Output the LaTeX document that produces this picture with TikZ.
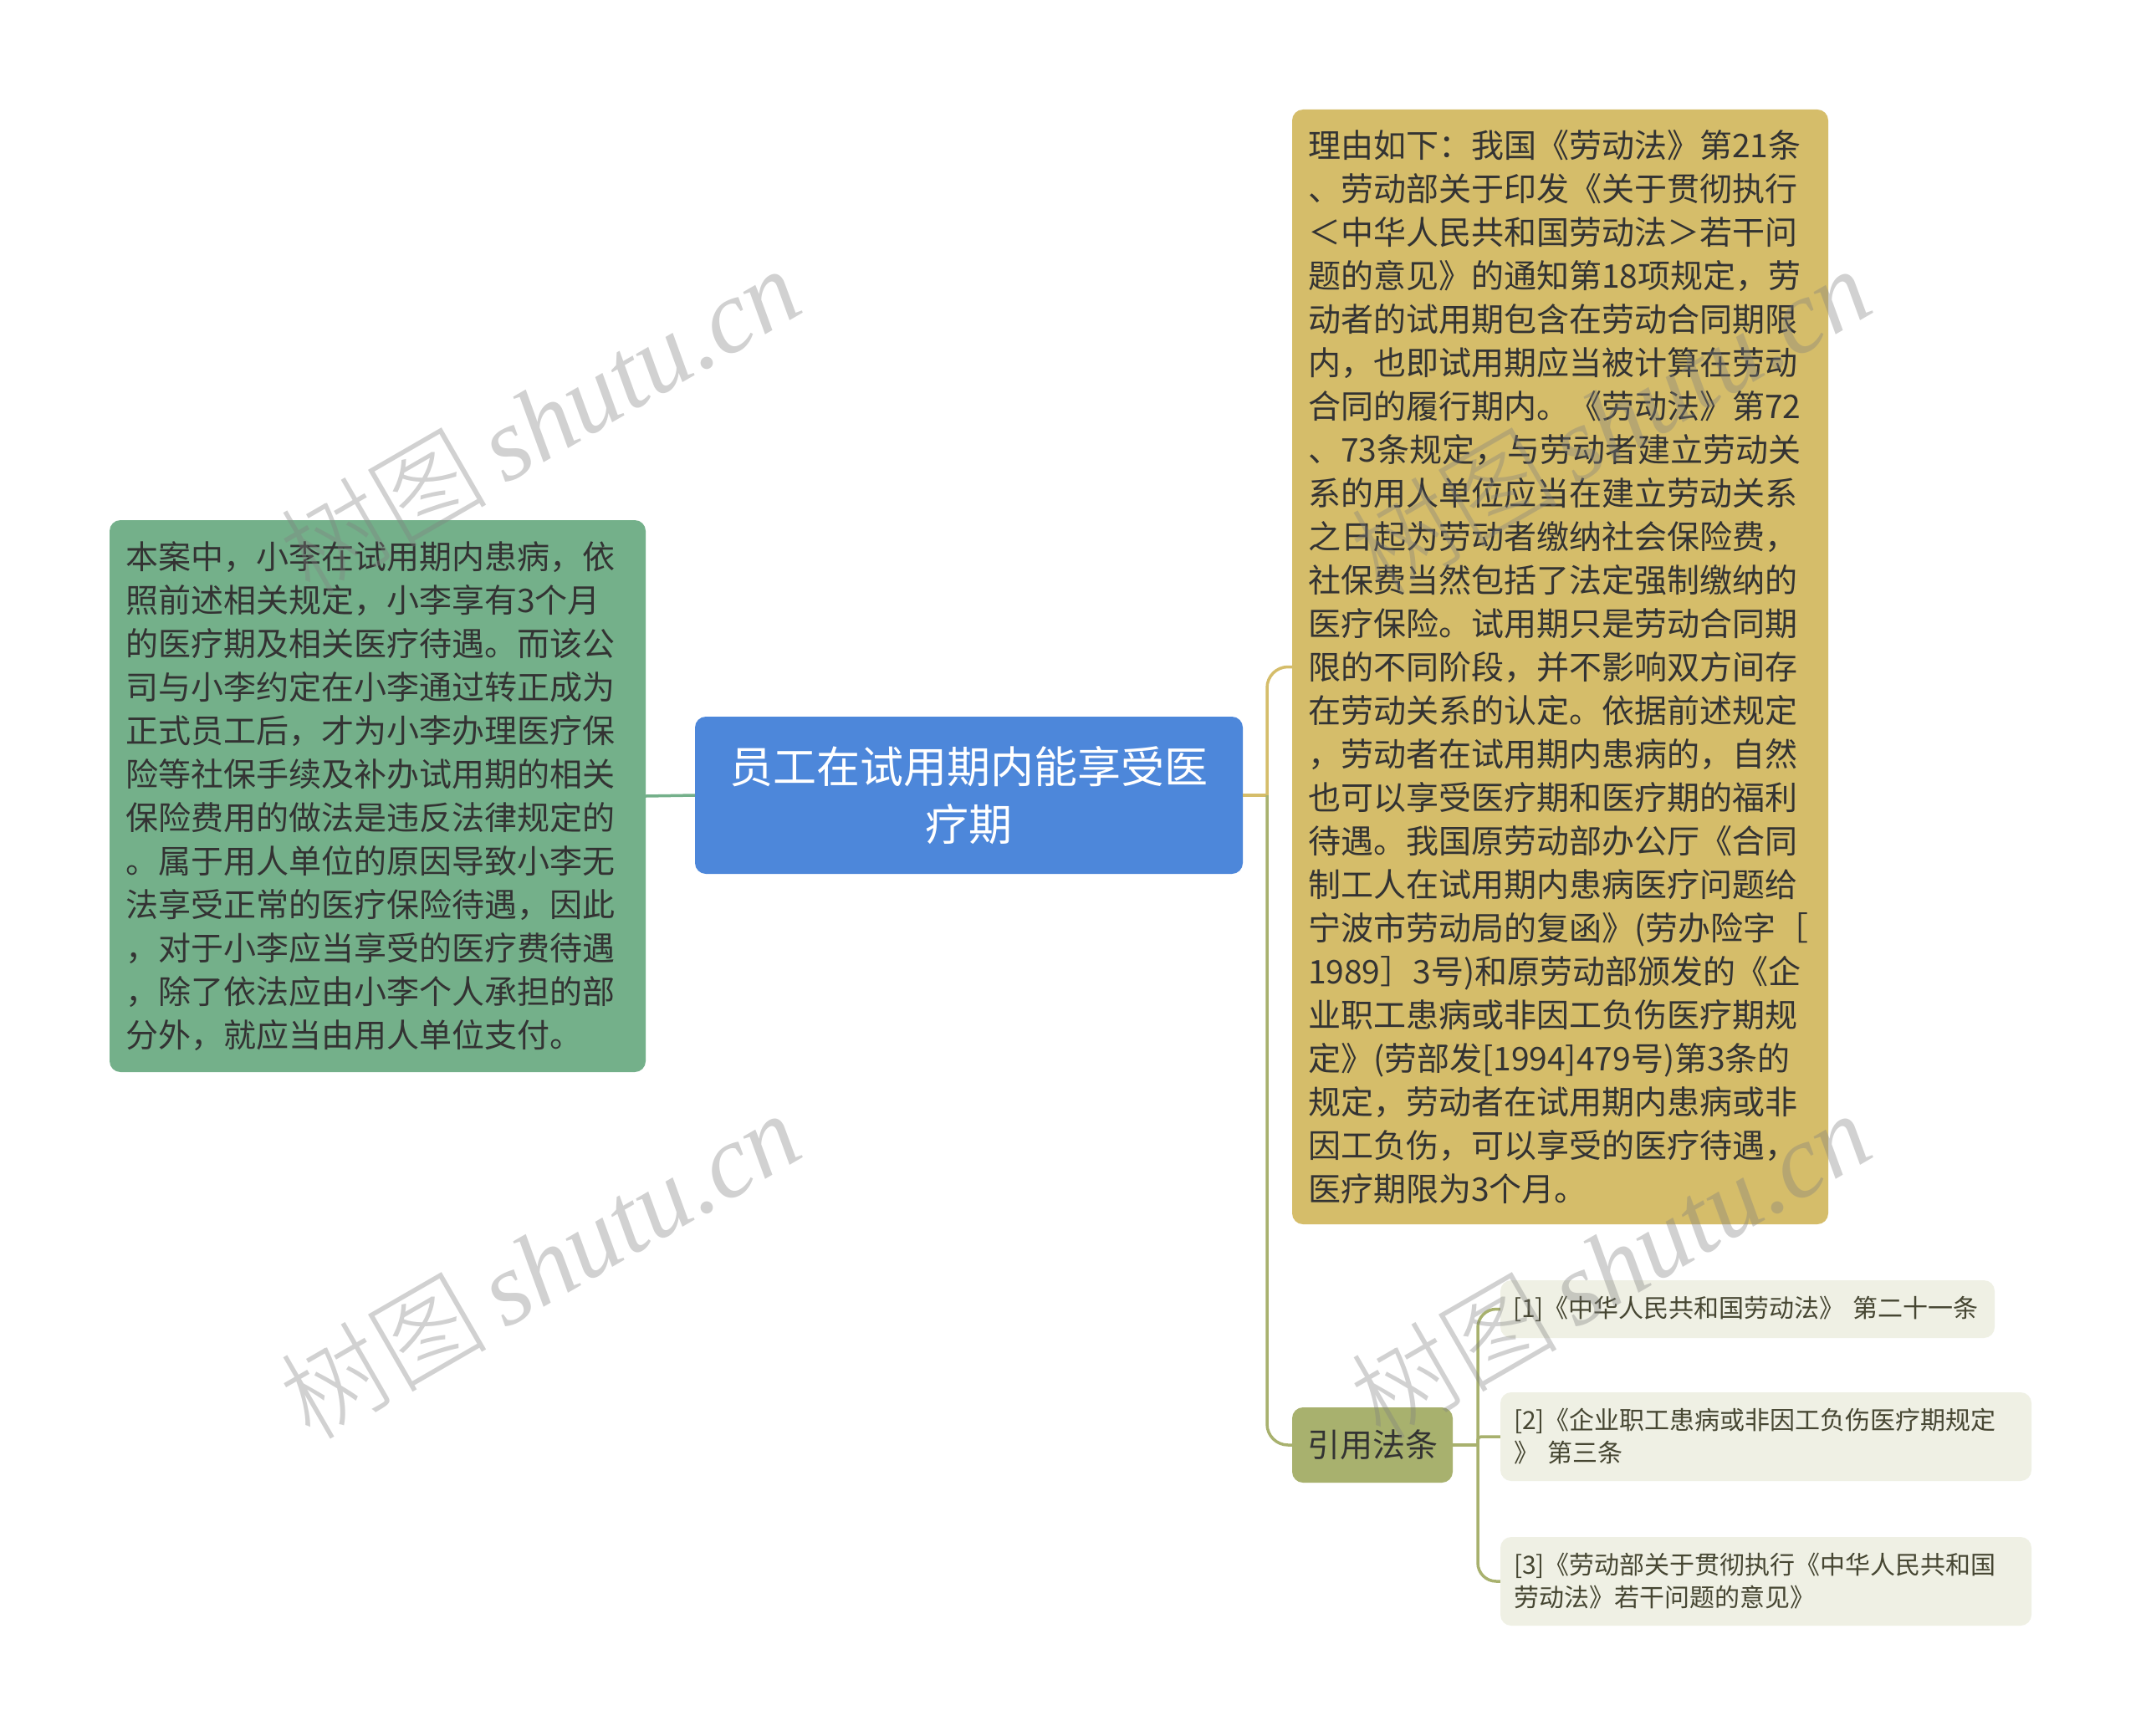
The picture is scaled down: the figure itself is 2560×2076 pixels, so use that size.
\documentclass[tikz,border=0pt]{standalone}
\usepackage{fontspec}
\setmainfont{Noto Sans CJK SC}
\newfontfamily\wmcjk{Noto Sans CJK SC Light}
\newfontfamily\wmlat{Liberation Serif}
\definecolor{cblue}{RGB}{77,135,218}
\definecolor{cgreen}{RGB}{116,176,138}
\definecolor{cgold}{RGB}{213,189,106}
\definecolor{colive}{RGB}{168,177,110}
\definecolor{crefbg}{RGB}{239,240,228}
\definecolor{ctext}{RGB}{51,51,51}
\definecolor{creftext}{RGB}{70,70,50}
\definecolor{cwm}{RGB}{128,128,128}
\begin{document}
\begin{tikzpicture}[x=1pt,y=-1pt,
  box/.style={rounded corners=13pt, inner ysep=0pt, anchor=center},
  bodytext/.style={font=\fontsize{39}{52}\selectfont, text=ctext, align=left},
  reftext/.style={font=\fontsize{30}{39}\selectfont, text=creftext, align=left},
  conn/.style={line width=3.5pt},
  wm/.style={rotate=30, text=cwm, opacity=0.36, font=\fontsize{124}{124}\selectfont, inner sep=0pt}
]
\useasboundingbox (0,0) rectangle (2560,2076);
\fill[white] (0,0) rectangle (2560,2076);

% central node
\node[box, fill=cblue, text=white, align=center, minimum width=655pt, minimum height=188pt,
      text width=615pt, inner xsep=20pt, font=\fontsize{52}{69}\selectfont]
  (root) at (1158.5,951) {员工在试用期内能享受医\\疗期};

% left green node
\node[box, fill=cgreen, bodytext, minimum width=641pt, minimum height=660pt,
      text width=603pt, inner xsep=19pt]
  (left) at (451.5,952) {本案中，小李在试用期内患病，依\\
照前述相关规定，小李享有3个月\\
的医疗期及相关医疗待遇。而该公\\
司与小李约定在小李通过转正成为\\
正式员工后，才为小李办理医疗保\\
险等社保手续及补办试用期的相关\\
保险费用的做法是违反法律规定的\\
。属于用人单位的原因导致小李无\\
法享受正常的医疗保险待遇，因此\\
，对于小李应当享受的医疗费待遇\\
，除了依法应由小李个人承担的部\\
分外，就应当由用人单位支付。};

% right gold node
\node[box, fill=cgold, bodytext, minimum width=641pt, minimum height=1333pt,
      text width=603pt, inner xsep=19pt]
  (reason) at (1865.5,797.5) {理由如下：我国《劳动法》第21条\\
、劳动部关于印发《关于贯彻执行\\
＜中华人民共和国劳动法＞若干问\\
题的意见》的通知第18项规定，劳\\
动者的试用期包含在劳动合同期限\\
内，也即试用期应当被计算在劳动\\
合同的履行期内。《劳动法》第72\\
、73条规定，与劳动者建立劳动关\\
系的用人单位应当在建立劳动关系\\
之日起为劳动者缴纳社会保险费，\\
社保费当然包括了法定强制缴纳的\\
医疗保险。试用期只是劳动合同期\\
限的不同阶段，并不影响双方间存\\
在劳动关系的认定。依据前述规定\\
，劳动者在试用期内患病的，自然\\
也可以享受医疗期和医疗期的福利\\
待遇。我国原劳动部办公厅《合同\\
制工人在试用期内患病医疗问题给\\
宁波市劳动局的复函》(劳办险字［\\
1989］3号)和原劳动部颁发的《企\\
业职工患病或非因工负伤医疗期规\\
定》(劳部发[1994]479号)第3条的\\
规定，劳动者在试用期内患病或非\\
因工负伤，可以享受的医疗待遇，\\
医疗期限为3个月。};

% cited laws node
\node[box, fill=colive, text=ctext, minimum width=192pt, minimum height=90pt,
      inner xsep=0pt, font=\fontsize{39}{52}\selectfont]
  (laws) at (1641,1728) {引用法条};

% reference leaves
\node[box, fill=crefbg, reftext, minimum width=591pt, minimum height=69pt,
      text width=561pt, inner xsep=15pt]
  (r1) at (2089.5,1565.5) {[1]《中华人民共和国劳动法》 第二十一条};
\node[box, fill=crefbg, reftext, minimum width=635pt, minimum height=106pt,
      text width=603pt, inner xsep=16pt]
  (r2) at (2111.5,1718) {[2]《企业职工患病或非因工负伤医疗期规定\\》 第三条};
\node[box, fill=crefbg, reftext, minimum width=635pt, minimum height=106pt,
      text width=603pt, inner xsep=16pt]
  (r3) at (2111.5,1891) {[3]《劳动部关于贯彻执行《中华人民共和国\\劳动法》若干问题的意见》};

% connectors
\coordinate (j1) at (1515,951);
\coordinate (j2) at (1767,1728);
\draw[conn, draw=cgreen] (left.east) -- (root.west);
\draw[conn, draw=cgold] (root.east) -- (j1);
\draw[conn, draw=cgold, rounded corners=25pt] (j1) |- (reason.west);
\draw[conn, draw=colive, rounded corners=25pt] (j1) |- (laws.west);
\draw[conn, draw=colive] (laws.east) -- (j2);
\draw[conn, draw=colive, rounded corners=22pt] (j2) |- (r1.west);
\draw[conn, draw=colive, rounded corners=4pt] (j2) |- (r2.west);
\draw[conn, draw=colive, rounded corners=22pt] (j2) |- (r3.west);

% watermarks
\node[wm] (wm1) at (645,502) {{\wmcjk 树图}\,{\wmlat\itshape shutu.cn}};
\node[wm] (wm2) at (1925,502) {{\wmcjk 树图}\,{\wmlat\itshape shutu.cn}};
\node[wm] (wm3) at (645,1512) {{\wmcjk 树图}\,{\wmlat\itshape shutu.cn}};
\node[wm] (wm4) at (1925,1512) {{\wmcjk 树图}\,{\wmlat\itshape shutu.cn}};
\end{tikzpicture}
\end{document}
